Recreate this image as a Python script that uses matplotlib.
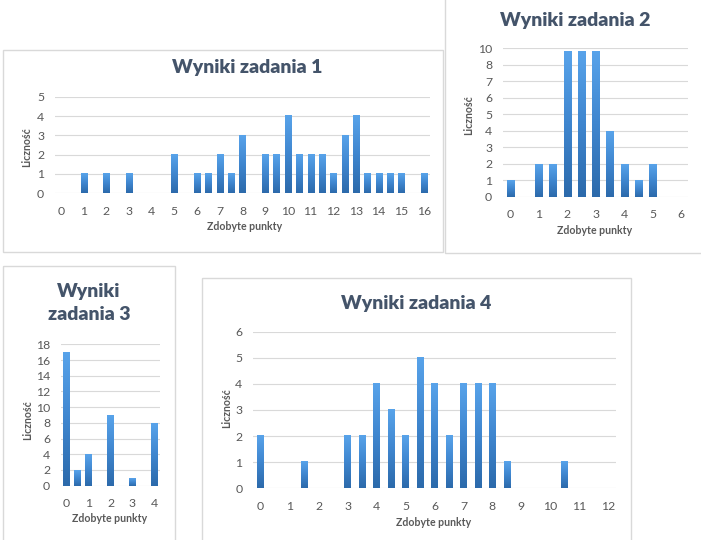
import numpy as np
import matplotlib
matplotlib.use("Agg")
import matplotlib.pyplot as plt
from matplotlib.colors import LinearSegmentedColormap
from matplotlib.patches import Rectangle

plt.rcParams['font.family'] = ['Lato', 'DejaVu Sans']

# ---------------- data ----------------
x1 = np.arange(0, 16.01, 0.5)
v1 = [0, 0, 1, 0, 1, 0, 1, 0, 0, 0, 2, 0, 1, 1, 2, 1, 3, 0, 2, 2, 4, 2, 2, 2, 1, 3, 4, 1, 1, 1, 1, 0, 1]
xt1 = list(range(0, 17))
yt1 = [0, 1, 2, 3, 4, 5]

x2 = np.arange(0, 6.01, 0.5)
v2 = [1, 0, 2, 2, 8.85, 8.85, 8.85, 4, 2, 1, 2, 0, 0]
xt2 = list(range(0, 7))
yt2 = list(range(0, 10))
yl2 = ['0', '1', '2', '3', '4', '5', '6', '7', '8', '10']

x3 = np.arange(0, 4.01, 0.5)
v3 = [17, 2, 4, 0, 9, 0, 1, 0, 8]
xt3 = [0, 1, 2, 3, 4]
yt3 = list(range(0, 19, 2))

x4 = np.arange(0, 12.01, 0.5)
v4 = [2, 0, 0, 1, 0, 0, 2, 2, 4, 3, 2, 5, 4, 2, 4, 4, 4, 1, 0, 0, 0, 1, 0, 0, 0]
xt4 = list(range(0, 13))
yt4 = [0, 1, 2, 3, 4, 5, 6]

titles = ["Wyniki zadania 1", "Wyniki zadania 2", "Wyniki\nzadania 3", "Wyniki zadania 4"]
xlabel = "Zdobyte punkty"
ylabel = "Liczność"

# ---------------- layout ----------------
W, H = 701, 540
fig = plt.figure(figsize=(W / 100, H / 100), dpi=100)
fig.patch.set_facecolor('white')

GRID = '#D9D9D9'
TXT = '#595959'
TITLE = '#44546A'
cmap = LinearSegmentedColormap.from_list('g', ['#2C6AAB', '#3F86CF', '#58A3EA'])


def px_axes(x0, y0, x1_, y1_):
    return fig.add_axes([x0 / W, 1 - y1_ / H, (x1_ - x0) / W, (y1_ - y0) / H])


# panel borders (figure-pixel rectangles)
bg = fig.add_axes([0, 0, 1, 1])
bg.set_xlim(0, W)
bg.set_ylim(H, 0)
bg.axis('off')
for (a, b, c, d) in [(3, 50, 443, 252), (445, -2, 705, 253), (3, 266, 175, 545), (202, 278, 631, 545)]:
    bg.add_patch(Rectangle((a, b), c - a, d - b, fill=False, ec='#D9D9D9', lw=1.0))


def draw(ax, xs, vs, xticks, yticks, ylabels, bw, ymax, tick_fs):
    ax.set_facecolor('none')
    bars = ax.bar(xs, vs, width=bw, color='none', zorder=3)
    grad = np.linspace(0, 1, 100).reshape(-1, 1)
    for r in bars:
        h = r.get_height()
        if h <= 0:
            continue
        ax.imshow(grad, extent=[r.get_x(), r.get_x() + r.get_width(), 0, h],
                  origin='lower', aspect='auto', cmap=cmap, zorder=3,
                  interpolation='bilinear')
    ax.set_xlim(xs[0] - 0.25, xs[-1] + 0.25)
    ax.set_ylim(0, ymax)
    ax.set_xticks(xticks)
    ax.set_xticklabels([str(t) for t in xticks])
    ax.set_yticks(yticks)
    ax.set_yticklabels(ylabels if ylabels is not None else [str(t) for t in yticks])
    ax.yaxis.grid(True, color=GRID, lw=0.8, zorder=0)
    ax.set_axisbelow(True)
    for s in ax.spines.values():
        s.set_visible(False)
    ax.tick_params(length=0, labelsize=tick_fs, colors=TXT, pad=6)
    ax.tick_params(axis='y', pad=8)
    ax.tick_params(axis='x', pad=9)


# chart 1
ax1 = px_axes(55.3, 96.7, 429.7, 193.3)
draw(ax1, x1, v1, xt1, yt1, None, 0.27, 5, 8.8)
# chart 2
ax2 = px_axes(503.2, 48.3, 688.1, 196.7)
draw(ax2, x2, v2, xt2, yt2, yl2, 0.25, 9, 8.8)
# chart 3
ax3 = px_axes(61.2, 344.3, 159.8, 485.7)
draw(ax3, x3, v3, xt3, yt3, None, 0.3, 18, 8.8)
# chart 4
ax4 = px_axes(253.4, 331.7, 615.5, 488.3)
draw(ax4, x4, v4, xt4, yt4, None, 0.23, 6, 8.8)


def ftext(x, y, s, **kw):
    fig.text(x / W, 1 - y / H, s, **kw)


tkw = dict(ha='center', va='center', fontsize=14, fontweight='heavy', color=TITLE, linespacing=1.4)
ftext(247, 68, titles[0], **tkw)
ftext(575, 20.5, titles[1], **tkw)
ftext(89, 303, titles[2], **tkw)
ftext(416, 303, titles[3], **tkw)

lkw = dict(ha='center', va='center', fontsize=7.6, fontweight='bold', color=TXT)
ftext(245, 227, xlabel, **lkw)
ftext(595, 230, xlabel, **lkw)
ftext(110, 519, xlabel, **lkw)
ftext(434, 523, xlabel, **lkw)
rkw = dict(lkw, rotation=90)
ftext(27, 147, ylabel, **rkw)
ftext(469, 115, ylabel, **rkw)
ftext(28, 420, ylabel, **rkw)
ftext(227, 408, ylabel, **rkw)

fig.savefig('out.png', dpi=100, facecolor='white')
